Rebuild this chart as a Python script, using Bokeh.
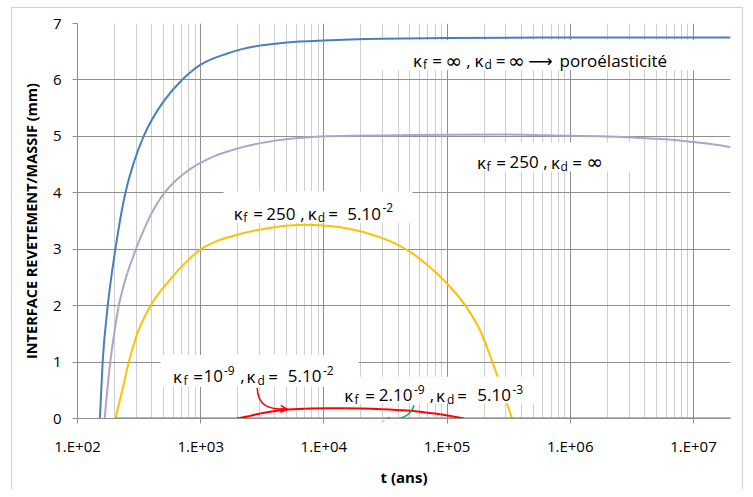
import math
from bokeh.plotting import figure
from bokeh.models import Range1d, FixedTicker, Arrow, OpenHead, ColumnDataSource
from bokeh.core.properties import value
from bokeh.embed import file_html
from bokeh.resources import INLINE

# ---------------- data ----------------
blue_t = [152, 160, 176, 203, 245, 290, 344, 500, 705, 840, 1000, 1600, 2200, 3054,
          5000, 1e4, 3e4, 1e5, 1e6, 2e7]
blue_y = [0, 1.0, 2.0, 3.0, 4.0, 4.57, 5.0, 5.62, 6.0, 6.15, 6.27, 6.46, 6.55, 6.61,
          6.665, 6.70, 6.73, 6.745, 6.75, 6.75]

purple_t = [166, 175, 185, 200, 215, 232, 255, 280, 298, 313, 350, 391, 446, 508, 591,
            712, 908, 997, 1200, 1750, 3060, 5570, 1.01e4, 4.2e4, 1e5, 2.7e5, 1e6,
            1.76e6, 3.72e6, 6.52e6, 1e7, 1.43e7, 2e7]
purple_y = [0, 0.53, 1.02, 1.55, 1.97, 2.28, 2.59, 2.84, 3.0, 3.12, 3.37, 3.6, 3.82,
            4.0, 4.16, 4.32, 4.48, 4.53, 4.62, 4.75, 4.88, 4.96, 5.0, 5.02, 5.03, 5.035,
            5.01, 5.0, 4.97, 4.94, 4.90, 4.86, 4.81]

yellow_t = [203, 231, 261, 305, 392, 585, 800, 1000, 1300, 1858, 3054, 5000, 7000,
            1e4, 16400, 28800, 48000, 70000, 94200, 141000, 186500, 229000, 271500,
            337000]
yellow_y = [0, 0.5, 1.0, 1.5, 2.0, 2.5, 2.82, 3.0, 3.13, 3.24, 3.35, 3.415, 3.435,
            3.42, 3.36, 3.21, 2.98, 2.71, 2.45, 2.0, 1.55, 1.05, 0.6, 0]

red_t = [1977, 2500, 3054, 3800, 4700, 7000, 10600, 15000, 20000, 30000, 47400,
         65000, 88300, 110000, 137000]
red_y = [0, 0.045, 0.09, 0.125, 0.15, 0.172, 0.18, 0.18, 0.177, 0.165, 0.14,
         0.11, 0.076, 0.04, 0]

green_t = [203, 2e7]
green_y = [0, 0]

x_ticks = [1e2, 1e3, 1e4, 1e5, 1e6, 1e7]
x_tick_labels = ["1.E+02", "1.E+03", "1.E+04", "1.E+05", "1.E+06", "1.E+07"]
y_ticks = [0, 1, 2, 3, 4, 5, 6, 7]
x_minor = [k * d for d in x_ticks for k in range(2, 10) if k * d < 2e7]

# ---------------- layout helpers (reference pixel -> data) ----------------
W, H = 745, 489
X_START, X_END = 1e2, 2e7
FR_L, FR_R, FR_T, FR_B = 77, 730, 23, 421        # frame in picture pixels
DEC = (FR_R - FR_L) / math.log10(X_END / X_START)
UNIT = (FR_B - FR_T) / 7.0


def tx(px):
    return 10 ** (math.log10(X_START) + (px - FR_L) / DEC)


def vy(py):
    return (FR_B - py) / UNIT


def smooth_segments(ts, ys):
    """Smoothed line through the data points (cubic Hermite in log-x space,
    weighted geometric-mean tangents), returned as Bezier segments."""
    u = [math.log10(t) for t in ts]
    n = len(u)
    h = [u[i + 1] - u[i] for i in range(n - 1)]
    d = [(ys[i + 1] - ys[i]) / h[i] for i in range(n - 1)]
    if n == 2:
        m = [d[0], d[0]]
    else:
        m = [0.0] * n
        for i in range(1, n - 1):
            if d[i - 1] * d[i] <= 0:
                m[i] = 0.0
            else:
                lg = (h[i] * math.log(abs(d[i - 1])) + h[i - 1] * math.log(abs(d[i]))) \
                    / (h[i - 1] + h[i])
                m[i] = math.copysign(math.exp(lg), d[i])
        m0 = (3 * d[0] - m[1]) / 2
        m[0] = m0 if m0 * d[0] > 0 else 0.0
        mn = (3 * d[-1] - m[-2]) / 2
        m[-1] = mn if mn * d[-1] > 0 else 0.0
    seg = dict(x0=[], y0=[], x1=[], y1=[], cx0=[], cy0=[], cx1=[], cy1=[])
    for i in range(n - 1):
        seg["x0"].append(ts[i])
        seg["y0"].append(ys[i])
        seg["x1"].append(ts[i + 1])
        seg["y1"].append(ys[i + 1])
        seg["cx0"].append(10 ** (u[i] + h[i] / 3))
        seg["cy0"].append(ys[i] + m[i] * h[i] / 3)
        seg["cx1"].append(10 ** (u[i + 1] - h[i] / 3))
        seg["cy1"].append(ys[i + 1] - m[i + 1] * h[i] / 3)
    return ColumnDataSource(seg)


p = figure(width=W, height=H, x_axis_type="log",
           x_range=Range1d(X_START, X_END), y_range=Range1d(0, 7),
           output_backend="svg", toolbar_location=None,
           min_border_left=FR_L, min_border_right=W - FR_R,
           min_border_top=FR_T, min_border_bottom=H - FR_B)
p.outline_line_color = None
p.background_fill_color = "white"
p.border_fill_color = None
# light chart-area border (drawn behind the transparent canvas border area)
BC = "#d0d0d0"
p.styles = {
    "background": (f"linear-gradient({BC},{BC}) 11px 7px / 1px calc(100% - 7px) no-repeat, "
                   f"linear-gradient({BC},{BC}) 11px 7px / 731px 1px no-repeat, "
                   f"linear-gradient({BC},{BC}) 742px 7px / 1px calc(100% - 7px) no-repeat, "
                   "white"),
}

GRID_MAJOR = "#8f8f8f"
GRID_MINOR = "#cfcfcf"

p.xaxis.ticker = FixedTicker(ticks=x_ticks, minor_ticks=x_minor)
p.xaxis.major_label_overrides = {float(v): s for v, s in zip(x_ticks, x_tick_labels)}
p.yaxis.ticker = FixedTicker(ticks=y_ticks)

for ax in (p.xaxis[0], p.yaxis[0]):
    ax.axis_line_color = GRID_MAJOR
    ax.major_tick_line_color = GRID_MAJOR
    ax.major_tick_out = 5
    ax.major_tick_in = 0
    ax.minor_tick_out = 0
    ax.minor_tick_in = 0
    ax.major_label_text_font = "Open Sans"
    ax.major_label_text_font_size = "15px"
    ax.major_label_text_color = "black"
    ax.axis_label_text_font = "Open Sans"
    ax.axis_label_text_font_style = "bold"
    ax.axis_label_text_color = "black"

p.xaxis.major_label_standoff = 12
p.xaxis.axis_label = "t (ans)"
p.xaxis.axis_label_text_font_size = "15px"
p.xaxis.axis_label_standoff = 8
p.yaxis.major_label_standoff = 11
p.yaxis.axis_label = "INTERFACE REVETEMENT/MASSIF (mm)"
p.yaxis.axis_label_text_font_size = "14.5px"
p.yaxis.axis_label_standoff = 9

p.xgrid.ticker = p.xaxis.ticker
p.xgrid.grid_line_color = GRID_MAJOR
p.xgrid.minor_grid_line_color = GRID_MINOR
p.ygrid.grid_line_color = GRID_MAJOR

# ---------------- curves (smoothed through the data points) ----------------
for ts, ys, col in [(blue_t, blue_y, "#4a7ebb"), (purple_t, purple_y, "#b3a2c7"),
                    (yellow_t, yellow_y, "#ffc000"), (green_t, green_y, "#00b050"),
                    (red_t, red_y, "#ff0000")]:
    p.bezier(x0="x0", y0="y0", x1="x1", y1="y1", cx0="cx0", cy0="cy0",
             cx1="cx1", cy1="cy1", source=smooth_segments(ts, ys),
             line_color=col, line_width=2)

# ---------------- label boxes ----------------
boxes = [(378, 40, 730, 70), (466, 143, 640, 172), (223, 192, 412, 224),
         (160, 357, 358, 389), (338, 379, 536, 406)]
p.quad(left=[tx(b[0]) for b in boxes], right=[tx(b[2]) for b in boxes],
       top=[vy(b[1]) for b in boxes], bottom=[vy(b[3]) for b in boxes],
       fill_color="white", line_color=None)

# ---------------- label texts ----------------
# (baseline, [(text, x anchor, align, kind), ...])
labels = [
    (60.7, [("κ", 421.5, "right", "n"), ("f", 422.5, "left", "sub"),
            ("=", 436.7, "center", "n"), ("∞", 453, "center", "inf"),
            (",", 468, "center", "n"), ("κ", 483, "right", "n"),
            ("d", 484, "left", "sub"), ("=", 500, "center", "n"),
            ("∞", 515.8, "center", "inf"), ("⟶", 540, "center", "sym"),
            ("poroélasticité", 559, "left", "n")]),
    (163.0, [("κ", 485.5, "right", "n"), ("f", 486, "left", "sub"),
             ("=", 500.7, "center", "n"), ("250", 523.7, "center", "n"),
             (",", 545, "center", "n"), ("κ", 559.5, "right", "n"),
             ("d", 560, "left", "sub"), ("=", 576.7, "center", "n"),
             ("∞", 594, "center", "inf")]),
    (214.5, [("κ", 242.3, "right", "n"), ("f", 242.7, "left", "sub"),
             ("=", 257.5, "center", "n"), ("250", 280.3, "center", "n"),
             (",", 302, "center", "n"), ("κ", 316.3, "right", "n"),
             ("d", 317.3, "left", "sub"), ("=", 332.7, "center", "n"),
             ("5.10", 380.5, "right", "n"), ("-2", 382, "left", "sup")]),
    (378.5, [("κ", 181.5, "right", "n"), ("f", 183, "left", "sub"),
             ("=", 197.5, "center", "n"), ("10", 222.5, "right", "n"),
             ("-9", 223.5, "left", "sup"), (",", 242, "center", "n"),
             ("κ", 255, "right", "n"), ("d", 257, "left", "sub"),
             ("=", 272.5, "center", "n"), ("5.10", 321, "right", "n"),
             ("-2", 322.5, "left", "sup")]),
    (397.5, [("κ", 352.7, "right", "n"), ("f", 354, "left", "sub"),
             ("=", 369.5, "center", "n"), ("2.10", 412, "right", "n"),
             ("-9", 413.5, "left", "sup"), (",", 431.5, "center", "n"),
             ("κ", 444.5, "right", "n"), ("d", 446.5, "left", "sub"),
             ("=", 461.7, "center", "n"), ("5.10", 510.5, "right", "n"),
             ("-3", 512, "left", "sup")]),
]

styles = {
    "n": ("Open Sans", "17px", 0),
    "sub": ("Open Sans", "12px", 4),
    "sup": ("Open Sans", "12px", -6),
    "sym": ("DejaVu Sans", "17px", 0),
    "inf": ("DejaVu Sans", "20px", 0),
}
for kind, (font, size, dy) in styles.items():
    for align in ("left", "center", "right"):
        xs, ys, ts = [], [], []
        for base, toks in labels:
            for t, ax_px, al, k in toks:
                if k == kind and al == align:
                    xs.append(tx(ax_px))
                    ys.append(vy(base + dy))
                    ts.append(t)
        if not ts:
            continue
        src = ColumnDataSource(dict(x=xs, y=ys, text=ts))
        p.text(x="x", y="y", text="text", source=src, text_align=align,
               text_baseline="alphabetic", text_font=value(font),
               text_font_size=value(size), text_color="black")

# ---------------- curved arrows ----------------
p.bezier(x0=[tx(256.7)], y0=[vy(390)], x1=[tx(287)], y1=[vy(411.7)],
         cx0=[tx(257)], cy0=[vy(408)], cx1=[tx(268)], cy1=[vy(412)],
         line_color="#ff0000", line_width=1.5)
p.add_layout(Arrow(end=OpenHead(size=7, line_color="#ff0000", line_width=1.5),
                   x_start=tx(280), y_start=vy(411.3), x_end=tx(287), y_end=vy(411.8),
                   line_color="#ff0000", line_width=1.5))
p.bezier(x0=[tx(413.3)], y0=[vy(407.5)], x1=[tx(382)], y1=[vy(423.3)],
         cx0=[tx(412)], cy0=[vy(417)], cx1=[tx(400)], cy1=[vy(423.5)],
         line_color="#00b050", line_width=1.5)
p.add_layout(Arrow(end=OpenHead(size=7, line_color="#00b050", line_width=1.5),
                   x_start=tx(389), y_start=vy(423.5), x_end=tx(382), y_end=vy(423.3),
                   line_color="#00b050", line_width=1.5))

open("out.html", "w").write(file_html(p, INLINE))
